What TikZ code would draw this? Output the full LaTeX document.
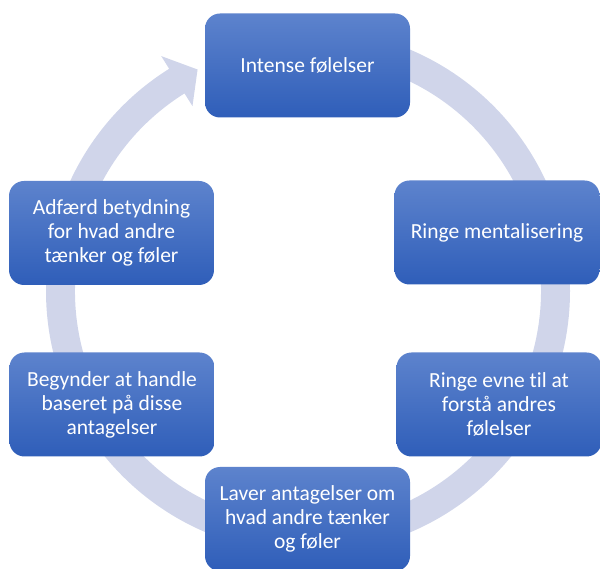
\documentclass[tikz,border=0pt]{standalone}
\usepackage{fontspec}
\setmainfont{Carlito}[Ligatures={NoCommon}]
\usetikzlibrary{calc}
\definecolor{ringc}{HTML}{D0D5EA}
\definecolor{boxtop}{HTML}{5D83CD}
\definecolor{boxbot}{HTML}{2F5EB9}
\tikzset{
  cyclebox/.style={rounded corners=15pt, top color=boxtop, bottom color=boxbot,
    draw=none, text=white, minimum width=205pt, minimum height=104pt,
    inner sep=0pt, align=center, font=\fontsize{21.5}{24}\selectfont}
}
\begin{document}
\begin{tikzpicture}[x=1pt,y=1pt]
\useasboundingbox (0,0) rectangle (600,568);
\clip (0,0) rectangle (600,568);
\coordinate (C) at (308,277);
% ring arrow
\fill[ringc] ($(C)+(90:262)$) arc[start angle=90, end angle=-238, radius=262]
  -- ($(C)+(122:277)$) -- ($(C)+(116.5:247.5)$) -- ($(C)+(122:218)$)
  -- ($(C)+(122:233)$) arc[start angle=-238, end angle=90, radius=233] -- cycle;
% boxes
\node[cyclebox] (top) at (307.5,502.5) {Intense følelser};
\node[cyclebox] (r1) at (497,335.5) {Ringe mentalisering};
\node[cyclebox] (r2) at (499,163.5) {Ringe evne til at\\forstå andres\\følelser};
\node[cyclebox] (bot) at (307.5,49) {Laver antagelser om\\hvad andre tænker\\og føler};
\node[cyclebox] (l2) at (112,163.5) {Begynder at handle\\baseret på disse\\antagelser};
\node[cyclebox] (l1) at (111.5,335) {Adfærd betydning\\for hvad andre\\tænker og føler};
\end{tikzpicture}
\end{document}
